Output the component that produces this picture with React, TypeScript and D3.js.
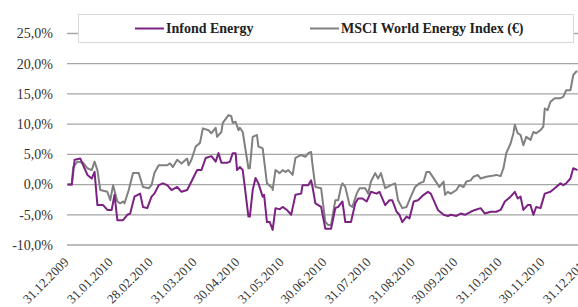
import * as d3 from 'd3';
import { useEffect, useRef } from 'react';

// day offsets from 31.12.2009 and cumulative performance in %
const infondDays = [0, 3, 5, 9, 11, 14, 17, 19, 21, 25, 28, 31, 33, 35, 39, 42, 44, 47, 51, 53, 56, 59, 61, 64, 67, 70, 73, 77, 80, 84, 87, 91, 94, 97, 101, 104, 106, 108, 112, 114, 116, 118, 119, 121, 123, 127, 128, 130, 132, 134, 137, 138, 140, 142, 144, 146, 149, 151, 154, 157, 160, 164, 165, 169, 171, 172, 174, 178, 181, 185, 188, 190, 193, 195, 199, 202, 204, 207, 210, 213, 217, 219, 223, 226, 228, 231, 233, 235, 238, 240, 243, 246, 250, 253, 255, 258, 260, 264, 267, 269, 273, 276, 279, 283, 286, 290, 293, 297, 301, 304, 307, 311, 314, 316, 318, 320, 323, 325, 327, 329, 332, 335, 339, 342, 346, 348, 350, 353, 355, 358];
const infondValues = [0, 0, 4.1, 4.3, 3.2, 1.6, 1.0, 2.1, -3.4, -3.4, -4.2, -4.2, -1.7, -5.9, -5.9, -5.0, -4.8, -2.0, -1.5, -3.7, -3.9, -2.0, -1.5, -0.1, 0.2, -0.1, -0.9, -0.4, -1.2, -0.9, 0.5, 2.4, 2.4, 4.4, 4.7, 3.8, 5.2, 3.6, 3.6, 3.8, 5.2, 5.2, 2.4, 2.9, 2.4, -5.3, -5.3, -0.9, 1.1, 0.2, -2.0, -1.7, -6.2, -6.2, -7.5, -3.9, -4.1, -3.7, -4.2, -5.0, -1.7, -1.5, -0.1, -0.1, 0.7, -0.4, -3.1, -3.7, -7.3, -7.3, -3.9, -3.7, -2.8, -6.2, -6.2, -3.1, -2.3, -2.3, -2.8, -1.2, -1.5, -1.2, -3.4, -2.6, -2.6, -4.5, -5.0, -6.2, -5.3, -5.6, -2.8, -2.6, -1.7, -1.2, -1.5, -3.1, -4.2, -5.0, -5.2, -5.0, -5.2, -4.8, -5.0, -4.5, -4.2, -3.9, -4.8, -4.5, -4.5, -4.2, -2.8, -2.0, -1.2, -2.3, -2.0, -4.2, -3.4, -3.4, -5.0, -3.7, -3.9, -1.5, -1.2, -0.6, 0.2, -0.1, 0.2, 1.0, 2.7, 2.4];

const msciDays = [0, 3, 4, 7, 11, 14, 17, 19, 21, 23, 28, 30, 32, 35, 37, 39, 40, 43, 46, 50, 53, 57, 59, 61, 64, 70, 72, 74, 77, 80, 84, 85, 87, 90, 93, 95, 99, 101, 104, 105, 108, 109, 113, 115, 116, 118, 120, 121, 123, 127, 128, 130, 133, 134, 137, 140, 144, 144, 146, 149, 151, 153, 155, 158, 160, 164, 167, 169, 171, 172, 174, 178, 181, 183, 185, 186, 188, 190, 192, 193, 195, 198, 200, 203, 205, 209, 211, 213, 216, 218, 220, 223, 227, 230, 232, 235, 238, 241, 244, 247, 250, 252, 254, 258, 261, 264, 265, 267, 269, 273, 275, 278, 280, 283, 285, 288, 290, 294, 297, 301, 304, 306, 308, 311, 313, 314, 316, 318, 320, 322, 325, 327, 329, 332, 334, 335, 337, 339, 342, 346, 348, 350, 353, 355, 357, 358];
const msciValues = [0, 0, 2.9, 3.8, 3.6, 2.7, 2.4, 3.8, 2.4, -0.9, -1.2, -2.6, -0.1, -2.8, -3.1, -2.8, -3.1, -0.9, 1.9, 1.9, -0.4, -0.6, -0.1, 1.9, 3.2, 3.2, 3.5, 2.9, 4.1, 3.5, 4.3, 3.2, 4.1, 6.3, 6.9, 9.3, 9.0, 8.5, 9.4, 7.9, 8.7, 10.2, 11.5, 11.3, 10.2, 10.4, 9.0, 9.4, 8.7, 2.7, 2.7, 7.9, 8.2, 6.3, 6.0, 0.2, -0.6, -0.9, 2.4, 1.9, 2.4, 2.1, 2.4, 1.6, 4.4, 4.9, 4.6, 5.2, 5.4, 3.2, -0.4, -0.6, -6.2, -6.7, -6.7, -5.3, -2.6, -2.6, -0.4, 0.2, -0.4, -3.4, -3.7, -1.5, -0.6, -0.6, -1.5, 0.5, 1.9, 1.0, 1.9, -0.6, -0.1, 0.2, -2.6, -3.9, -3.7, -2.0, -0.4, 0.2, 0.5, 2.1, 2.1, 0.7, -0.4, 0.5, -1.7, -1.2, -1.5, -0.9, -0.1, -0.4, 0.5, 0.7, 1.3, 1.6, 1.0, 1.3, 1.4, 1.6, 1.4, 2.7, 5.2, 6.8, 8.5, 9.9, 8.5, 8.2, 6.5, 7.9, 7.4, 8.7, 8.5, 9.0, 9.6, 12.6, 12.3, 13.7, 14.3, 14.3, 14.5, 15.6, 15.6, 18.1, 18.7, 18.7];

const xTickDates = ['31.12.2009', '31.01.2010', '28.02.2010', '31.03.2010', '30.04.2010', '31.05.2010', '30.06.2010', '31.07.2010', '31.08.2010', '30.09.2010', '31.10.2010', '30.11.2010', '31.12.2010'];
const yTicks = [-10, -5, 0, 5, 10, 15, 20, 25];
const seriesNames = ['Infond Energy', 'MSCI World Energy Index (€)'];
const seriesColors = ['#7b2283', '#808080'];

const width = 578;
const height = 307;
const font = '"Liberation Serif", "Times New Roman", serif';

const parseDate = d3.timeParse('%d.%m.%Y');
const startDate = parseDate('31.12.2009') as Date;
const toDate = (d: number) => d3.timeDay.offset(startDate, d);

export default function App() {
  const svgRef = useRef<SVGSVGElement>(null);

  useEffect(() => {
    if (!svgRef.current) return;
    const svg = d3.select(svgRef.current);
    svg.selectAll('*').remove();

    const x = d3
      .scaleTime()
      .domain([startDate, parseDate('31.12.2010') as Date])
      .range([67.5, 587.5]);
    const y = d3.scaleLinear().domain([-10, 25]).range([245, 33.5]);

    // Grid lines
    svg
      .append('g')
      .selectAll('line')
      .data(yTicks)
      .enter()
      .append('line')
      .attr('x1', 67)
      .attr('x2', width)
      .attr('y1', (d) => y(d))
      .attr('y2', (d) => y(d))
      .attr('stroke', '#a6a6a6')
      .attr('stroke-width', 1.3);

    // Y labels
    const fmt = (d: number) => d.toFixed(1).replace('.', ',') + '%';
    svg
      .append('g')
      .selectAll('text')
      .data(yTicks)
      .enter()
      .append('text')
      .attr('x', 53)
      .attr('y', (d) => y(d))
      .attr('dy', '0.35em')
      .attr('text-anchor', 'end')
      .attr('fill', '#333')
      .style('font-family', font)
      .style('font-size', '14px')
      .text(fmt);

    // X labels
    svg
      .append('g')
      .selectAll('text')
      .data(xTickDates)
      .enter()
      .append('text')
      .attr('text-anchor', 'end')
      .attr('transform', (d) => `translate(${x(parseDate(d) as Date) + 2}, 263) rotate(-45)`)
      .attr('fill', '#333')
      .style('font-family', font)
      .style('font-size', '13px')
      .text((d) => d);

    // Lines
    const line = d3
      .line<[number, number]>()
      .x((d) => x(toDate(d[0])))
      .y((d) => y(d[1]));

    const series: [number, number][][] = [
      d3.zip(infondDays, infondValues) as [number, number][],
      d3.zip(msciDays, msciValues) as [number, number][],
    ];

    svg
      .append('g')
      .selectAll('path')
      .data([series[1], series[0]])
      .enter()
      .append('path')
      .attr('d', (d) => line(d))
      .attr('fill', 'none')
      .attr('stroke', (_, i) => (i === 0 ? seriesColors[1] : seriesColors[0]))
      .attr('stroke-width', 2)
      .attr('stroke-linejoin', 'round');

    // Legend
    const legend = svg.append('g');
    legend
      .append('rect')
      .attr('x', 78.5)
      .attr('y', 14.5)
      .attr('width', 495)
      .attr('height', 28)
      .attr('fill', '#fff')
      .attr('stroke', '#d9d9d9');

    const legendItems = [
      { name: seriesNames[0], color: seriesColors[0], x: 135 },
      { name: seriesNames[1], color: seriesColors[1], x: 310 },
    ];
    legendItems.forEach((item) => {
      legend
        .append('line')
        .attr('x1', item.x)
        .attr('x2', item.x + 29)
        .attr('y1', 28.5)
        .attr('y2', 28.5)
        .attr('stroke', item.color)
        .attr('stroke-width', 2);
      legend
        .append('text')
        .attr('x', item.x + 31)
        .attr('y', 28.5)
        .attr('dy', '0.35em')
        .attr('fill', '#222')
        .style('font-family', font)
        .style('font-size', '14px')
        .style('font-weight', 'bold')
        .text(item.name);
    });
  }, []);

  return (
    <svg
      ref={svgRef}
      width={width}
      height={height}
      style={{ position: 'absolute', left: 0, top: 0, background: '#fff' }}
    />
  );
}
